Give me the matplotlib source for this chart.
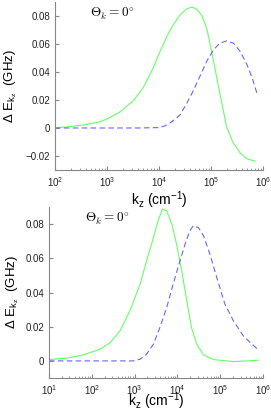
import matplotlib
matplotlib.use("Agg")
import matplotlib.pyplot as plt
import numpy as np

plt.rcParams['font.family'] = ['Liberation Sans', 'DejaVu Sans']
plt.rcParams['mathtext.fontset'] = 'custom'
plt.rcParams['mathtext.rm'] = 'Liberation Sans'
plt.rcParams['mathtext.it'] = 'Liberation Sans:italic'

# top panel data (log10 k_z, Delta E in GHz)
top_green_logk = [2.0, 2.22, 2.54, 2.87, 3.06, 3.25, 3.51, 3.70, 3.89, 4.02, 4.15, 4.27, 4.40, 4.53, 4.63,
                  4.72, 4.82, 4.92, 5.01, 5.11, 5.21, 5.30, 5.43, 5.56, 5.69, 5.85]
top_green_e = [0.0002, 0.0007, 0.0021, 0.0044, 0.0075, 0.0115, 0.0197, 0.029, 0.043, 0.0548, 0.0653, 0.0735,
               0.0805, 0.085, 0.0863, 0.085, 0.0805, 0.0711, 0.0547, 0.036, 0.0173, 0.0009, -0.0108, -0.0178,
               -0.022, -0.0237]
top_blue_logk = [2.0, 3.0, 3.6, 4.02, 4.15, 4.27, 4.40, 4.53, 4.66, 4.79, 4.92, 5.05, 5.17, 5.30, 5.43, 5.56,
                 5.69, 5.79, 5.89]
top_blue_e = [0.0, 0.0, 0.0, 0.0003, 0.0021, 0.0052, 0.0091, 0.0173, 0.0267, 0.0372, 0.0478, 0.0559, 0.0606,
              0.0622, 0.0606, 0.0548, 0.0454, 0.036, 0.0239]

# bottom panel data
bot_green_logk = [1.02, 1.41, 1.80, 2.19, 2.43, 2.66, 2.89, 3.13, 3.28, 3.44, 3.55, 3.65, 3.75, 3.87, 3.98,
                  4.10, 4.22, 4.33, 4.45, 4.61, 4.84, 5.31, 5.89]
bot_green_e = [0.0008, 0.0016, 0.0035, 0.0068, 0.0107, 0.0176, 0.0293, 0.0449, 0.0585, 0.0722, 0.082, 0.0888,
               0.0878, 0.08, 0.0683, 0.0527, 0.0351, 0.0195, 0.0098, 0.0035, 0.0008, -0.0004, 0.0004]
bot_blue_logk = [1.0, 2.0, 2.97, 3.13, 3.28, 3.44, 3.59, 3.75, 3.90, 4.06, 4.18, 4.29, 4.37, 4.49, 4.61, 4.76,
                 4.92, 5.11, 5.31, 5.54, 5.89]
bot_blue_e = [0.0, 0.0, 0.0, 0.001, 0.0039, 0.0098, 0.0195, 0.0312, 0.0449, 0.0585, 0.0683, 0.0761, 0.079,
              0.078, 0.0732, 0.0624, 0.0488, 0.0332, 0.0234, 0.0146, 0.0064]

green = '#66ff66'
blue = '#6666ff'
grey = '#888888'

fig = plt.figure(figsize=(2.71, 4.11), dpi=100)
ax1 = fig.add_axes([0.203, 0.5864, 0.7675, 0.4088])
ax2 = fig.add_axes([0.1808, 0.0803, 0.7897, 0.416])

panels = [
    (ax1, top_green_logk, top_green_e, top_blue_logk, top_blue_e, (1e2, 1e6), (-0.03, 0.09),
     [-0.02, 0, 0.02, 0.04, 0.06, 0.08]),
    (ax2, bot_green_logk, bot_green_e, bot_blue_logk, bot_blue_e, (1e1, 1e6), (-0.01, 0.09),
     [0, 0.02, 0.04, 0.06, 0.08]),
]

for ax, gk, ge, bk, be, xl, yl, yt in panels:
    ax.plot(10 ** np.array(gk), ge, color=green, lw=0.8)
    ax.plot(10 ** np.array(bk), be, color=blue, lw=0.8, dashes=(5, 3))
    ax.set_xscale('log')
    ax.set_xlim(*xl)
    ax.set_ylim(*yl)
    ax.set_yticks(yt)
    ax.set_yticklabels(['0' if v == 0 else f'{v:.2f}'.replace('-', '\u2212') for v in yt])
    for s in ['top', 'right']:
        ax.spines[s].set_visible(False)
    for s in ['left', 'bottom']:
        ax.spines[s].set_color(grey)
        ax.spines[s].set_linewidth(0.8)
    ax.tick_params(which='both', direction='in', colors=grey, labelcolor='#222222', labelsize=7)
    ax.tick_params(which='major', length=3)
    ax.tick_params(which='minor', length=1.5)
    ax.set_ylabel(r'$\Delta\ \mathrm{E}_{\mathrm{k}_{\mathrm{z}}}$  (GHz)', fontsize=9.5)
    ax.yaxis.label.set_va('center')
    ax.set_xlabel(r'k$_\mathrm{z}$ (cm$^{-1}$)', fontsize=10)
    ax.xaxis.label.set_va('center')
    ax.text(0.17, 0.975, r'$\Theta_k = 0^{\circ}$', transform=ax.transAxes, fontsize=9.5,
            va='top', ha='left', math_fontfamily='cm')

ax1.xaxis.set_label_coords(0.5, -0.178)
ax2.xaxis.set_label_coords(0.5, -0.138)
ax1.yaxis.set_label_coords(-0.215, 0.5)
ax2.yaxis.set_label_coords(-0.17, 0.5)

fig.savefig('out.png', dpi=100)
